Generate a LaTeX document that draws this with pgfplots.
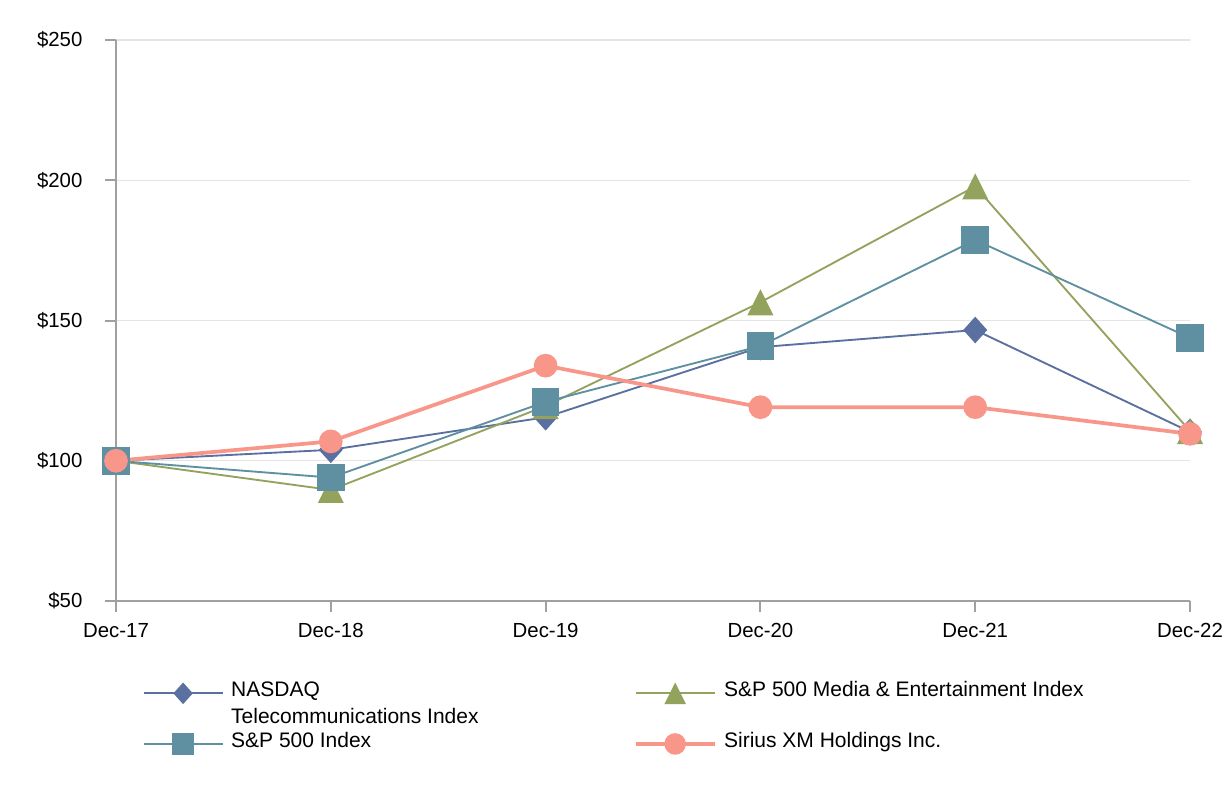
\documentclass[border=0pt]{standalone}
\usepackage{pgfplots}
\pgfplotsset{compat=1.18}
\usepackage{fontspec}
\setmainfont{Liberation Sans}
\definecolor{cN}{HTML}{5A70A0}
\definecolor{cM}{HTML}{93A35E}
\definecolor{cS}{HTML}{5E90A2}
\definecolor{cX}{HTML}{F8968A}
\definecolor{axgray}{HTML}{A0A0A0}
\definecolor{grd}{HTML}{E4E4E4}
\pgfdeclareplotmark{mydiamond}{%
  \pgfpathmoveto{\pgfqpoint{0pt}{\pgfplotmarksize}}%
  \pgfpathlineto{\pgfqpoint{0.9\pgfplotmarksize}{0pt}}%
  \pgfpathlineto{\pgfqpoint{0pt}{-\pgfplotmarksize}}%
  \pgfpathlineto{\pgfqpoint{-0.9\pgfplotmarksize}{0pt}}%
  \pgfpathclose\pgfusepathqfill}
\pgfdeclareplotmark{mytriangle}{%
  \pgfpathmoveto{\pgfqpoint{0pt}{\pgfplotmarksize}}%
  \pgfpathlineto{\pgfqpoint{\pgfplotmarksize}{-\pgfplotmarksize}}%
  \pgfpathlineto{\pgfqpoint{-\pgfplotmarksize}{-\pgfplotmarksize}}%
  \pgfpathclose\pgfusepathqfill}
\pgfdeclareplotmark{mysquare}{%
  \pgfpathrectangle{\pgfqpoint{-\pgfplotmarksize}{-\pgfplotmarksize}}{\pgfqpoint{2\pgfplotmarksize}{2\pgfplotmarksize}}%
  \pgfusepathqfill}
\pgfdeclareplotmark{mycircle}{%
  \pgfpathcircle{\pgfpointorigin}{\pgfplotmarksize}\pgfusepathqfill}
\begin{document}
\begin{tikzpicture}
\useasboundingbox (0,0) rectangle (922.5pt,600pt);
\begin{axis}[
  at={(87pt,149.25pt)}, anchor=south west,
  scale only axis, width=805.5pt, height=420.75pt,
  xmin=0, xmax=5, ymin=50, ymax=250, clip=false,
  axis lines=left, axis line style={-, draw=axgray, line width=1.5pt},
  xtick={0,1,2,3,4,5}, xticklabels={Dec-17,Dec-18,Dec-19,Dec-20,Dec-21,Dec-22},
  ytick={50,100,150,200,250}, yticklabels={\$50,\$100,\$150,\$200,\$250},
  tick align=outside, major tick length=8.25pt,
  tick style={draw=axgray, line width=1.5pt},
  ymajorgrids, grid style={draw=grd, line width=1.1pt},
  ticklabel style={font=\fontsize{15.3}{18}\selectfont},
  xticklabel style={anchor=base, yshift=-18.95pt},
  yticklabel style={anchor=east, inner xsep=0pt, xshift=-16.75pt},
  legend columns=2,
  legend image code/.code={\draw[mark repeat=2,mark phase=2,#1,mark size=8.1pt] plot coordinates {(0pt,0pt) (29.6pt,0pt) (59.2pt,0pt)};},
  legend style={at={(axis description cs:0.02486,-0.1364)}, anchor=north west,
    draw=none, fill=none, inner sep=0pt, outer sep=0pt,
    font=\fontsize{15.75}{18.75}\selectfont,
    /tikz/column sep=3.75pt,
    /tikz/every even column/.append style={column sep=10pt},
    cells={anchor=mid west, inner xsep=0pt, inner ysep=0pt, text height=12.5pt, text depth=6.25pt}},
]
\addplot[color=cN, line width=1.4pt, mark=mydiamond, mark size=10pt, mark options={fill=cN}]
  coordinates {(0,100) (1,103.9) (2,115.5) (3,140.5) (4,146.6) (5,110.3)};
\addlegendentry{\makebox[290pt][l]{NASDAQ}}
\addplot[color=cM, line width=1.4pt, mark=mytriangle, mark size=9.75pt, mark options={fill=cM}]
  coordinates {(0,100) (1,89.6) (2,119.5) (3,156.5) (4,197.8) (5,110.6)};
\addlegendentry{\makebox[290pt][l]{S\&P 500 Media \& Entertainment Index}}
\addlegendimage{empty legend}
\addlegendentry{\makebox[290pt][l]{Telecommunications Index}}
\addlegendimage{empty legend}
\addlegendentry{}
\addplot[color=cS, line width=1.4pt, mark=mysquare, mark size=10.4pt, mark options={fill=cS}]
  coordinates {(0,100) (1,94.0) (2,121.0) (3,140.9) (4,178.7) (5,143.8)};
\addlegendentry{\makebox[290pt][l]{S\&P 500 Index}}
\addplot[color=cX, line width=2.8pt, mark=mycircle, mark size=8.9pt, mark options={fill=cX}]
  coordinates {(0,100) (1,106.9) (2,133.9) (3,119.1) (4,119.1) (5,109.6)};
\addlegendentry{\makebox[290pt][l]{Sirius XM Holdings Inc.}}
\end{axis}
\end{tikzpicture}
\end{document}
